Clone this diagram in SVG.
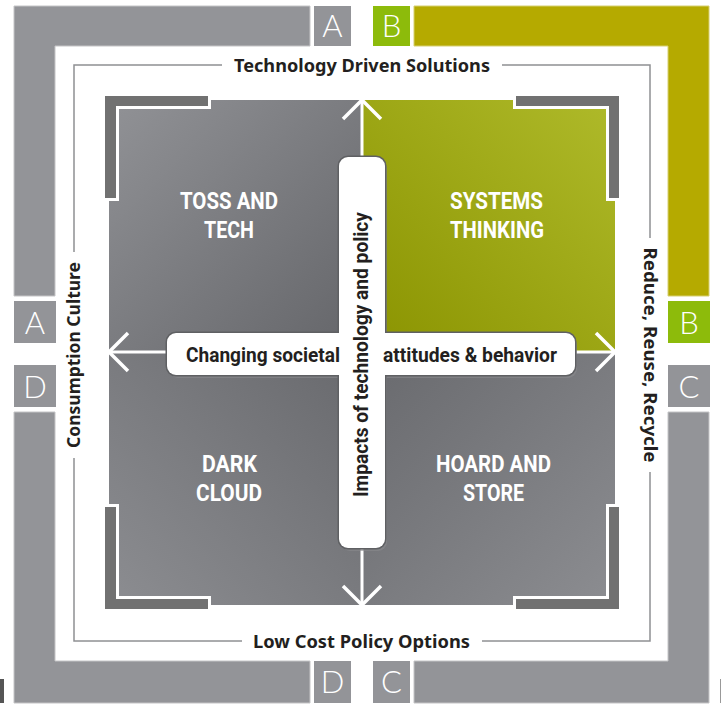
<svg xmlns="http://www.w3.org/2000/svg" width="722" height="707" viewBox="0 0 722 707">
<defs>
<style>
.band{fill:#939498;stroke:#c4c4c6;stroke-width:1}
.olive{fill:#b5aa00;stroke:#d6cf70;stroke-width:1}
.box{fill:#939498}
.gbox{fill:#8dbb0b}
.boxlet{font-family:Lato,"Liberation Sans",sans-serif;font-weight:300;font-size:31px;fill:#fff;text-anchor:middle}
.outer{font-family:"Noto Sans","Liberation Sans",sans-serif;font-weight:700;font-size:18px;fill:#231f20;text-anchor:middle}
.quad{font-family:Roboto,"Liberation Sans",sans-serif;font-weight:700;font-size:24px;fill:#fff;text-anchor:middle}
.bar{font-family:Roboto,"Liberation Sans",sans-serif;font-weight:700;font-size:21px;fill:#231f20}
.bracket{fill:#717171;stroke:#fff;stroke-width:6;paint-order:stroke fill}
.conn{stroke:#fff;stroke-width:3;fill:none}
</style>
<linearGradient id="gTL" gradientUnits="userSpaceOnUse" x1="109" y1="100" x2="362" y2="352"><stop offset="0" stop-color="#919296"/><stop offset="1" stop-color="#646569"/></linearGradient>
<linearGradient id="gTR" gradientUnits="userSpaceOnUse" x1="615" y1="100" x2="362" y2="352"><stop offset="0" stop-color="#afba2a"/><stop offset="1" stop-color="#8a9300"/></linearGradient>
<linearGradient id="gBL" gradientUnits="userSpaceOnUse" x1="109" y1="605" x2="362" y2="352"><stop offset="0" stop-color="#8c8d91"/><stop offset="1" stop-color="#68696d"/></linearGradient>
<linearGradient id="gBR" gradientUnits="userSpaceOnUse" x1="615" y1="605" x2="362" y2="352"><stop offset="0" stop-color="#8c8d91"/><stop offset="1" stop-color="#68696d"/></linearGradient>
<marker id="chev" viewBox="-24 -24 48 48" refX="0" refY="0" markerWidth="48" markerHeight="48" markerUnits="userSpaceOnUse" orient="auto-start-reverse" overflow="visible">
<path d="M-19,-19 L0,0 L-19,19" fill="none" stroke="#fff" stroke-width="3.5"/>
</marker>
</defs>
<rect width="722" height="707" fill="#fff"/>

<g id="frame-A">
<path class="band" d="M14,6 H310 V46 H55 V296 H14 Z"/>
<rect class="box" x="314" y="6" width="37" height="40"/>
<text class="boxlet" x="332.5" y="37">A</text>
<rect class="box" x="14" y="301" width="42" height="42"/>
<text class="boxlet" x="35" y="334">A</text>
</g>
<g id="frame-B">
<path class="olive" d="M414,6 H709 V296 H668 V46 H414 Z"/>
<rect class="gbox" x="373" y="6" width="37" height="40"/>
<text class="boxlet" x="391.5" y="37">B</text>
<rect class="gbox" x="668" y="301" width="42" height="42"/>
<text class="boxlet" x="689" y="334">B</text>
</g>
<g id="frame-C">
<path class="band" d="M709,412 V703 H414 V661 H668 V412 Z"/>
<rect class="box" x="668" y="365" width="42" height="42"/>
<text class="boxlet" x="689" y="398">C</text>
<rect class="box" x="373" y="661" width="37" height="42"/>
<text class="boxlet" x="391.5" y="693">C</text>
</g>
<g id="frame-D">
<path class="band" d="M14,412 H55 V661 H310 V703 H14 Z"/>
<rect class="box" x="14" y="365" width="42" height="42"/>
<text class="boxlet" x="35" y="398">D</text>
<rect class="box" x="314" y="661" width="37" height="42"/>
<text class="boxlet" x="332.5" y="693">D</text>
</g>
<rect x="0" y="679" width="4" height="24" fill="#555"/>
<line x1="720.5" y1="679" x2="720.5" y2="703" stroke="#999" stroke-width="1"/>

<g id="axis-frame">
<rect x="74" y="65" width="576" height="576" fill="none" stroke="#8f9093" stroke-width="1.5"/>
<rect x="222" y="55" width="280" height="20" fill="#fff"/>
<rect x="242" y="631" width="240" height="20" fill="#fff"/>
<rect x="64" y="252" width="20" height="206" fill="#fff"/>
<rect x="640" y="238" width="20" height="234" fill="#fff"/>
<text class="outer" x="362" y="72" textLength="256" lengthAdjust="spacingAndGlyphs">Technology Driven Solutions</text>
<text class="outer" x="361.5" y="648" textLength="217" lengthAdjust="spacingAndGlyphs">Low Cost Policy Options</text>
<text class="outer" transform="translate(80,355) rotate(-90)" x="0" y="0" textLength="186" lengthAdjust="spacingAndGlyphs">Consumption Culture</text>
<text class="outer" transform="translate(644,355) rotate(90)" x="0" y="0" textLength="215" lengthAdjust="spacingAndGlyphs">Reduce, Reuse, Recycle</text>
</g>

<g id="quadrant-TL">
<rect x="109" y="100" width="253" height="252" fill="url(#gTL)"/>
</g>
<g id="quadrant-TR">
<rect x="362" y="100" width="253" height="252" fill="url(#gTR)"/>
</g>
<g id="quadrant-BL">
<rect x="109" y="352" width="253" height="253" fill="url(#gBL)"/>
</g>
<g id="quadrant-BR">
<rect x="362" y="352" width="253" height="253" fill="url(#gBR)"/>
</g>

<g id="connectors">
<line class="conn" x1="109" y1="352" x2="615" y2="352" marker-start="url(#chev)" marker-end="url(#chev)"/>
<line class="conn" x1="362" y1="100" x2="362" y2="605" marker-start="url(#chev)" marker-end="url(#chev)"/>
</g>

<g id="brackets">
<path class="bracket" d="M105,96 H208 V106 H116 V198 H105 Z"/>
<path class="bracket" d="M619,96 H516 V106 H609 V198 H619 Z"/>
<path class="bracket" d="M105,609 H208 V599 H116 V507 H105 Z"/>
<path class="bracket" d="M619,609 H516 V599 H609 V507 H619 Z"/>
</g>

<g id="quadrant-labels">
<text class="quad" x="229" y="209" textLength="98" lengthAdjust="spacingAndGlyphs">TOSS AND</text>
<text class="quad" x="229" y="238" textLength="50" lengthAdjust="spacingAndGlyphs">TECH</text>
<text class="quad" x="496.5" y="209" textLength="93" lengthAdjust="spacingAndGlyphs">SYSTEMS</text>
<text class="quad" x="497" y="238" textLength="94" lengthAdjust="spacingAndGlyphs">THINKING</text>
<text class="quad" x="229.5" y="472" textLength="55" lengthAdjust="spacingAndGlyphs">DARK</text>
<text class="quad" x="229" y="501" textLength="66" lengthAdjust="spacingAndGlyphs">CLOUD</text>
<text class="quad" x="493.5" y="472" textLength="115" lengthAdjust="spacingAndGlyphs">HOARD AND</text>
<text class="quad" x="493.5" y="501" textLength="61" lengthAdjust="spacingAndGlyphs">STORE</text>
</g>

<g id="cross">
<rect x="169" y="336" width="408" height="42" rx="9" fill="#8a8b8e" opacity="0.6"/>
<rect x="341" y="160" width="46" height="391" rx="9" fill="#8a8b8e" opacity="0.6"/>
<rect x="167" y="333" width="408" height="42" rx="9" fill="#fff" stroke="#5f6063" stroke-width="3"/>
<rect x="339" y="157" width="46" height="391" rx="9" fill="#fff" stroke="#5f6063" stroke-width="3"/>
<rect x="167" y="333" width="408" height="42" rx="9" fill="#fff"/>
<rect x="339" y="157" width="46" height="391" rx="9" fill="#fff"/>
<text class="bar" x="186" y="362" textLength="154" lengthAdjust="spacingAndGlyphs">Changing societal</text>
<text class="bar" x="383" y="362" textLength="174" lengthAdjust="spacingAndGlyphs">attitudes &amp; behavior</text>
<text class="bar" transform="translate(368,497) rotate(-90)" x="0" y="0" textLength="285" lengthAdjust="spacingAndGlyphs">Impacts of technology and policy</text>
</g>
</svg>
